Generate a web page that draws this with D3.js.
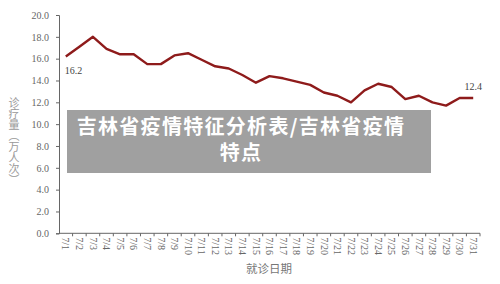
<!DOCTYPE html>
<html>
<head>
<meta charset="utf-8">
<script src="https://cdn.jsdelivr.net/npm/d3@7"></script>
<style>
  body { margin: 0; background: #fff; }
  svg { display: block; }
</style>
</head>
<body>
<div id="chart"></div>
<script>
// data
const dates = ['7/1','7/2','7/3','7/4','7/5','7/6','7/7','7/8','7/9','7/10','7/11','7/12','7/13','7/14','7/15','7/16',
  '7/17','7/18','7/19','7/20','7/21','7/22','7/23','7/24','7/25','7/26','7/27','7/28','7/29','7/30','7/31']
const visits = [16.2, 17.1, 18.0, 16.9, 16.4, 16.4, 15.5, 15.5, 16.3, 16.5, 15.9, 15.3, 15.1, 14.5, 13.8, 14.4,
  14.2, 13.9, 13.6, 12.9, 12.6, 12.0, 13.1, 13.7, 13.4, 12.3, 12.6, 12.0, 11.7, 12.4, 12.4]
const yTicks = [0, 2, 4, 6, 8, 10, 12, 14, 16, 18, 20]
const yTitle = '诊疗量（万人次）'
const xTitle = '就诊日期'
const bannerLines = ['吉林省疫情特征分析表/吉林省疫情', '特点']

const width = 500, height = 284
const margin = { top: 15, right: 20, bottom: 51, left: 59 }

const svg = d3.select('#chart')
  .append('svg')
  .attr('width', width)
  .attr('height', height)

const x = d3.scaleBand()
  .domain(dates)
  .range([margin.left, width - margin.right])

const y = d3.scaleLinear()
  .domain([0, 20])
  .range([height - margin.bottom + 0.3, margin.top])

const serif = '"Liberation Serif", "DejaVu Serif", serif'

// y axis
const yAxis = svg.append('g')
  .attr('transform', 'translate(' + margin.left + ',0)')
  .call(d3.axisLeft(y).tickValues(yTicks).tickFormat(d3.format('.1f')).tickSize(3).tickPadding(7))
yAxis.select('.domain').attr('stroke', '#666')
yAxis.selectAll('.tick line').attr('stroke', '#666')
yAxis.selectAll('.tick text')
  .attr('fill', '#666')
  .style('font-family', serif)
  .style('font-size', '10px')

// x axis, ticks on band edges
const xAxisG = svg.append('g')
  .attr('transform', 'translate(0,' + y(0) + ')')
xAxisG.append('line')
  .attr('x1', margin.left).attr('x2', width - margin.right)
  .attr('stroke', '#666')
xAxisG.selectAll('line.tk')
  .data(dates)
  .enter().append('line')
  .attr('class', 'tk')
  .attr('x1', d => x(d) + x.bandwidth())
  .attr('x2', d => x(d) + x.bandwidth())
  .attr('y2', 3)
  .attr('stroke', '#666')
xAxisG.selectAll('text')
  .data(dates)
  .enter().append('text')
  .attr('transform', d => 'translate(' + (x(d) + x.bandwidth() / 2) + ',4) rotate(90)')
  .attr('dy', '0.33em')
  .attr('fill', '#666')
  .style('font-family', serif)
  .style('font-size', '10px')
  .text(d => d)

// axis titles
svg.append('text')
  .attr('x', 14)
  .attr('y', 97)
  .style('writing-mode', 'vertical-rl')
  .style('font-family', '"Noto Sans CJK SC", sans-serif')
  .style('font-size', '11px')
  .attr('fill', '#999')
  .text(yTitle)

svg.append('text')
  .attr('x', 269)
  .attr('y', 273)
  .attr('text-anchor', 'middle')
  .style('font-family', '"Noto Sans CJK SC", sans-serif')
  .style('font-size', '11.5px')
  .attr('fill', '#777')
  .text(xTitle)

// the line
const line = d3.line()
  .x((d, i) => x(dates[i]) + x.bandwidth() / 2)
  .y(d => y(d))

svg.append('path')
  .datum(visits)
  .attr('d', line)
  .attr('fill', 'none')
  .attr('stroke', '#8e1b1b')
  .attr('stroke-width', 2.4)
  .attr('stroke-linejoin', 'round')

// first and last value labels
const last = visits.length - 1
svg.append('text')
  .attr('x', x(dates[0]) + x.bandwidth() / 2 - 1)
  .attr('y', y(visits[0]) + 18)
  .attr('fill', '#444')
  .style('font-family', serif)
  .style('font-size', '10px')
  .text(visits[0].toFixed(1))
svg.append('text')
  .attr('x', x(dates[last]) + x.bandwidth() / 2)
  .attr('y', y(visits[last]) - 8)
  .attr('text-anchor', 'middle')
  .attr('fill', '#444')
  .style('font-family', serif)
  .style('font-size', '10px')
  .text(visits[last].toFixed(1))

// grey banner over the chart
svg.append('rect')
  .attr('x', 67)
  .attr('y', 110)
  .attr('width', 364)
  .attr('height', 63)
  .attr('fill', '#a0a0a0')

svg.selectAll('text.banner')
  .data(bannerLines)
  .enter().append('text')
  .attr('class', 'banner')
  .attr('x', 241)
  .attr('y', (d, i) => 134 + i * 26)
  .attr('text-anchor', 'middle')
  .attr('fill', '#fff')
  .style('font-family', '"Noto Sans CJK SC", sans-serif')
  .style('font-weight', 'bold')
  .style('font-size', '20px')
  .style('letter-spacing', '1.3px')
  .text(d => d)
</script>
</body>
</html>
